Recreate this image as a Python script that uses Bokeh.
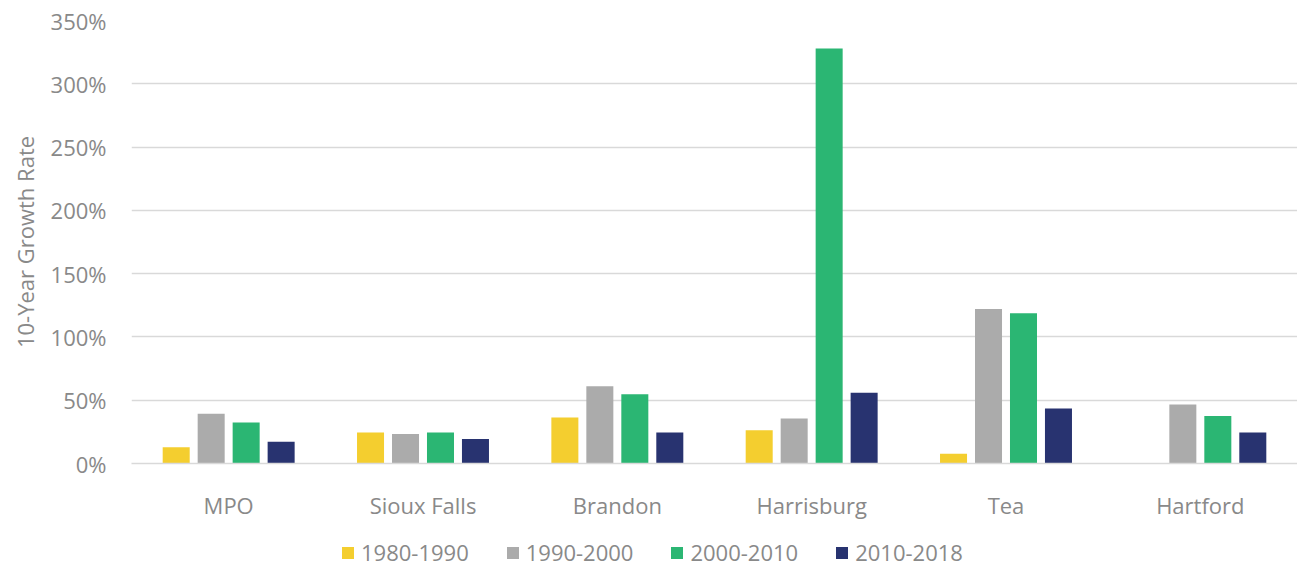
from bokeh.plotting import figure
from bokeh.layouts import column
from bokeh.models import FactorRange, Range1d, Legend, LegendItem, NumeralTickFormatter, FixedTicker
from bokeh.transform import dodge
from bokeh.embed import file_html
from bokeh.resources import INLINE

# Ten-year population growth rates (%) by area
areas = ["MPO", "Sioux Falls", "Brandon", "Harrisburg", "Tea", "Hartford"]
periods = ["1980-1990", "1990-2000", "2000-2010", "2010-2018"]
g_1980_1990 = [12.9, 24.4, 36.3, 26.2, 7.7, 0.0]
g_1990_2000 = [39.4, 23.3, 61.1, 35.5, 122.0, 46.6]
g_2000_2010 = [32.3, 24.4, 54.8, 327.8, 118.8, 37.5]
g_2010_2018 = [17.2, 19.3, 24.4, 55.8, 43.4, 24.4]
colors = ["#F4CE2F", "#ABABAB", "#2BB673", "#283370"]
y_ticks = [0, 50, 100, 150, 200, 250, 300, 350]

FONT = "Open Sans"
TXT = "#898989"
FS = "22px"

data = dict(area=areas, a=[v / 100 for v in g_1980_1990], b=[v / 100 for v in g_1990_2000],
            c=[v / 100 for v in g_2000_2010], d=[v / 100 for v in g_2010_2018])

p = figure(width=1297, height=530, output_backend="svg", toolbar_location=None,
           x_range=FactorRange(*areas, range_padding=0), y_range=Range1d(0, 3.5),
           min_border_left=131, min_border_right=0, min_border_top=20, min_border_bottom=67)
p.outline_line_color = None

offsets = [-0.27, -0.09, 0.09, 0.27]
keys = ["a", "b", "c", "d"]
for k, off, col in zip(keys, offsets, colors):
    p.vbar(x=dodge("area", off, range=p.x_range), top=k, width=0.139, source=data,
           fill_color=col, line_color=None)

p.xgrid.grid_line_color = None
p.ygrid.grid_line_color = "#D9D9D9"
p.ygrid.grid_line_width = 1.5

p.yaxis.ticker = FixedTicker(ticks=[t / 100 for t in y_ticks])
p.yaxis.formatter = NumeralTickFormatter(format="0%")
p.yaxis.axis_line_color = None
p.yaxis.major_tick_line_color = None
p.yaxis.minor_tick_line_color = None
p.yaxis.major_label_standoff = 19
p.yaxis.major_label_text_font = FONT
p.yaxis.major_label_text_font_size = FS
p.yaxis.major_label_text_color = TXT
p.yaxis.axis_label = "10-Year Growth Rate"
p.yaxis.axis_label_text_font = FONT
p.yaxis.axis_label_text_font_size = FS
p.yaxis.axis_label_text_font_style = "normal"
p.yaxis.axis_label_text_color = TXT
p.yaxis.axis_label_standoff = 8

p.xaxis.axis_line_color = "#D9D9D9"
p.xaxis.axis_line_width = 1.5
p.xaxis.major_tick_line_color = None
p.xaxis.minor_tick_line_color = None
p.xaxis.major_label_standoff = 20
p.xaxis.major_label_text_font = FONT
p.xaxis.major_label_text_font_size = FS
p.xaxis.major_label_text_color = TXT

# Legend strip below the chart; swatch renderers sit outside the visible range
lg = figure(width=1297, height=37, output_backend="svg", toolbar_location=None,
            x_range=Range1d(0, 1), y_range=Range1d(0, 1),
            min_border_left=0, min_border_right=0, min_border_top=0, min_border_bottom=0)
lg.outline_line_color = None
lg.axis.visible = False
lg.grid.visible = False
swatches = [lg.vbar(x=[-5], top=[-5], width=0.1, fill_color=col, line_color=None) for col in colors]

legend = Legend(items=[LegendItem(label=lab, renderers=[r]) for lab, r in zip(periods, swatches)],
                orientation="horizontal", location=(209, 0),
                glyph_width=15, glyph_height=15, label_standoff=6, spacing=36,
                label_text_font=FONT, label_text_font_size=FS, label_text_color=TXT,
                border_line_color=None, background_fill_alpha=0, padding=0, margin=0)
lg.add_layout(legend, "center")

open("out.html", "w").write(file_html(column(p, lg, spacing=0), INLINE))
